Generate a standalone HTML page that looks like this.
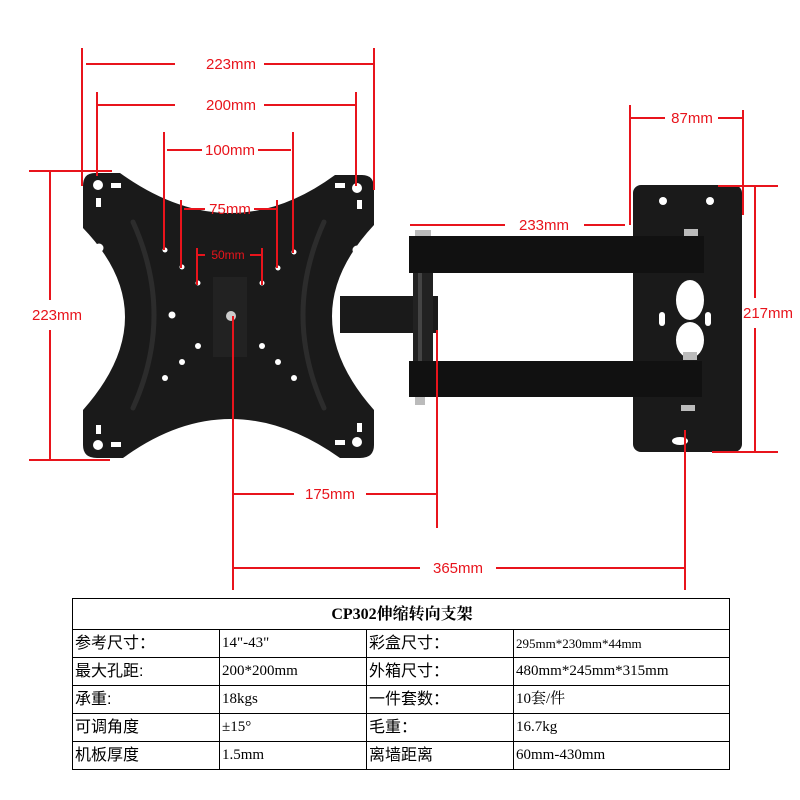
<!DOCTYPE html>
<html><head><meta charset="utf-8"><style>
body{margin:0;background:#fff;width:800px;height:800px;overflow:hidden;position:relative;font-family:"Liberation Sans","Noto Sans CJK SC",sans-serif}
svg{position:absolute;left:0;top:0}
table{position:absolute;left:72px;top:598px;width:658px;border-collapse:collapse;font-family:"Liberation Serif","Noto Serif CJK SC",serif;font-size:15px;color:#000}
td{border:1px solid #000;height:27px;padding:0 0 0 2px;line-height:27px;white-space:nowrap}
td.t{text-align:center;font-weight:bold;height:30px;font-size:16px}
.c{font-family:"Liberation Sans","Noto Sans CJK SC",sans-serif;font-size:16px}
</style></head><body>
<svg width="800" height="800" viewBox="0 0 800 800">
<g fill="#1a1a1a">
<!-- TV plate -->
<path d="M95,173 L120,173 Q230,252 335,175 L362,175 Q374,175 374,188 L374,225 Q290,315 374,410 L374,445 Q374,458 360,458 L340,458 Q230,380 123,458 L97,458 Q83,458 83,445 L83,410 Q167,315 83,228 L83,186 Q83,173 95,173 Z"/>
<!-- middle arm -->
<rect x="340" y="296" width="98" height="37"/>
<!-- pole -->
<rect x="413" y="270" width="20" height="95" fill="#222"/>
<rect x="418" y="270" width="4" height="95" fill="#444"/>
<!-- wall plate -->
<rect x="633" y="185" width="109" height="267" rx="8"/>
<!-- arms -->
<rect x="409" y="236" width="295" height="37" fill="#111"/>
<rect x="409" y="361" width="293" height="36" fill="#111"/>
</g>
<g fill="none" stroke="#2c2c2c" stroke-width="5" stroke-linecap="round">
<path d="M133,222 Q175,315 133,408"/>
<path d="M324,222 Q282,315 324,408"/>
</g>
<rect x="213" y="277" width="34" height="80" fill="#222"/>
<g fill="#fff">
<circle cx="98" cy="185" r="5"/><circle cx="357" cy="188" r="5"/>
<circle cx="98" cy="445" r="5"/><circle cx="357" cy="442" r="5"/>
<circle cx="99" cy="248" r="4.5"/><circle cx="357" cy="250" r="4.5"/>
<circle cx="99" cy="378" r="4.5"/><circle cx="357" cy="378" r="4.5"/>
<circle cx="165" cy="250" r="2.5"/><circle cx="294" cy="252" r="2.5"/>
<circle cx="182" cy="267" r="2.5"/><circle cx="278" cy="268" r="2.5"/>
<circle cx="198" cy="283" r="2.5"/><circle cx="262" cy="283" r="2.5"/>
<circle cx="172" cy="315" r="3.5"/><circle cx="198" cy="346" r="3"/><circle cx="262" cy="346" r="3"/>
<circle cx="182" cy="362" r="3"/><circle cx="278" cy="362" r="3"/><circle cx="165" cy="378" r="3"/><circle cx="294" cy="378" r="3"/>
<circle cx="231" cy="316" r="5" fill="#ccc"/>
<rect x="111" y="183" width="10" height="5"/><rect x="96" y="198" width="5" height="9"/>
<rect x="335" y="183" width="10" height="5"/><rect x="357" y="200" width="5" height="9"/>
<rect x="96" y="425" width="5" height="9"/><rect x="111" y="442" width="10" height="5"/>
<rect x="357" y="423" width="5" height="9"/><rect x="335" y="440" width="10" height="5"/>
<circle cx="663" cy="201" r="4"/><circle cx="710" cy="201" r="4"/>
<ellipse cx="680" cy="441" rx="8" ry="4"/>
<ellipse cx="690" cy="300" rx="14" ry="20"/>
<ellipse cx="690" cy="340" rx="14" ry="18"/>
<rect x="659" y="312" width="6" height="14" rx="3"/><rect x="705" y="312" width="6" height="14" rx="3"/>
</g>
<g fill="#bbb"><rect x="415" y="230" width="16" height="6"/><rect x="415" y="397" width="10" height="8"/><rect x="684" y="229" width="14" height="7"/><rect x="683" y="352" width="14" height="8"/><rect x="681" y="405" width="14" height="6"/></g>
<g stroke="#e8141c" stroke-width="2" fill="none">
<!-- 223 top -->
<path d="M82,48V186M374,48V190M86,64H175M264,64H373"/>
<!-- 200 -->
<path d="M97,92V176M356,92V186M98,105H175M264,105H355"/>
<!-- 100 -->
<path d="M164,132V250M293,132V253M167,150H202M258,150H291"/>
<!-- 75 -->
<path d="M181,200V268M277,200V268M184,209H205M254,209H276"/>
<!-- 50 -->
<path d="M197,248V285M262,248V285M198,255H205M250,255H262"/>
<!-- 223 left -->
<path d="M50,171V300M50,330V460M29,171H112M29,460H110"/>
<!-- 233 -->
<path d="M410,225H505M584,225H625M630,105V225"/>
<!-- 87 -->
<path d="M630,118H665M718,118H742M743,110V215"/>
<!-- 217 -->
<path d="M755,186V298M755,328V452M718,186H778M712,452H778"/>
<!-- 175 -->
<path d="M233,316V590M437,330V528M234,494H294M366,494H436"/>
<!-- 365 -->
<path d="M234,568H420M496,568H685M685,430V590"/>
</g>
<g fill="#e8141c" font-family="Liberation Sans, sans-serif" font-size="15" text-anchor="middle">
<text x="231" y="69">223mm</text>
<text x="231" y="110">200mm</text>
<text x="230" y="155">100mm</text>
<text x="230" y="214">75mm</text>
<text x="228" y="259" font-size="12">50mm</text>
<text x="57" y="320">223mm</text>
<text x="544" y="230">233mm</text>
<text x="692" y="123">87mm</text>
<text x="768" y="318">217mm</text>
<text x="330" y="499">175mm</text>
<text x="458" y="573">365mm</text>
</g>
</svg>
<table>
<tr><td class="t" colspan="4">CP302伸缩转向支架</td></tr>
<tr><td class="c" style="width:144px">参考尺寸：</td><td style="width:144px">14"-43"</td><td class="c" style="width:144px">彩盒尺寸：</td><td style="font-size:13px">295mm*230mm*44mm</td></tr>
<tr><td class="c">最大孔距:</td><td>200*200mm</td><td class="c">外箱尺寸：</td><td>480mm*245mm*315mm</td></tr>
<tr><td class="c">承重:</td><td>18kgs</td><td class="c">一件套数：</td><td>10套/件</td></tr>
<tr><td class="c">可调角度</td><td>±15°</td><td class="c">毛重：</td><td>16.7kg</td></tr>
<tr><td class="c">机板厚度</td><td>1.5mm</td><td class="c">离墙距离</td><td>60mm-430mm</td></tr>
</table>
</body></html>
